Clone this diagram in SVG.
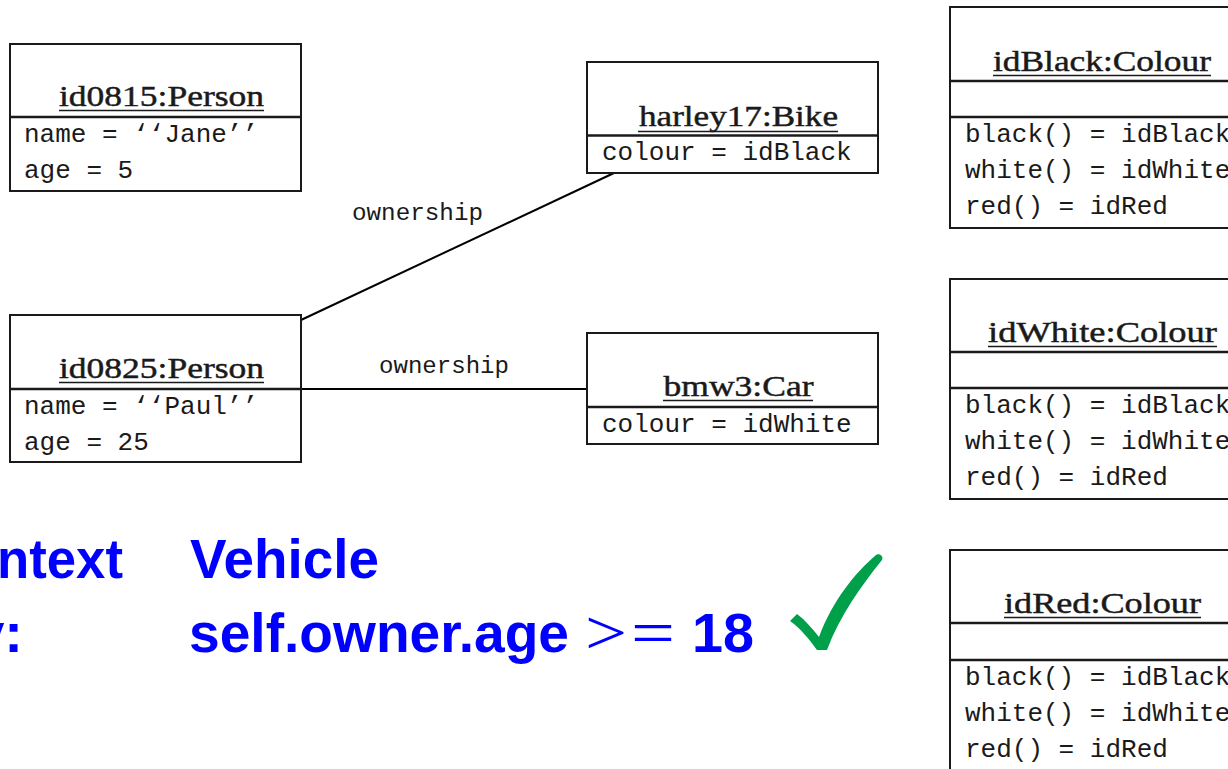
<svg xmlns="http://www.w3.org/2000/svg" width="1228" height="769" viewBox="0 0 1228 769">
  <style>
    .box { fill: #ffffff; stroke: #1a1a1a; stroke-width: 2; }
    .sep { stroke: #1a1a1a; stroke-width: 2.5; }
    .ul { stroke: #1a1a1a; stroke-width: 1.6; }
    .title { font-family: "Liberation Serif", "DejaVu Serif", serif; font-size: 29px; fill: #1a1a1a; stroke: #1a1a1a; stroke-width: 0.45; text-anchor: middle; }
    .mono { font-family: "Liberation Mono", "DejaVu Sans Mono", monospace; font-size: 26px; fill: #1a1a1a; }
    .lbl { font-family: "Liberation Mono", "DejaVu Sans Mono", monospace; font-size: 24.7px; fill: #1a1a1a; }
    .conn { stroke: #000000; stroke-width: 2; fill: none; }
    .ocl { font-family: "Liberation Sans", Arial, sans-serif; font-weight: bold; font-size: 56px; fill: #0000ff; }
    .math { font-family: "Liberation Serif", "DejaVu Serif", serif; font-weight: normal; font-size: 64px; fill: #0000ff; }
  </style>

  <!-- links -->
  <g id="connectors">
    <line class="conn" x1="301" y1="320" x2="614" y2="173"/>
    <line class="conn" x1="301" y1="389" x2="587" y2="389"/>
    <text class="lbl" x="352" y="220" textLength="131" lengthAdjust="spacingAndGlyphs">ownership</text>
    <text class="lbl" x="379" y="373" textLength="130" lengthAdjust="spacingAndGlyphs">ownership</text>
  </g>

  <g id="id0815">
    <rect class="box" x="10" y="44" width="291" height="147"/>
    <line class="sep" x1="10" y1="117" x2="301" y2="117"/>
    <text class="title" x="161.5" y="106" textLength="205" lengthAdjust="spacingAndGlyphs">id0815:Person</text>
    <line class="ul" x1="59" y1="110.5" x2="264" y2="110.5"/>
    <text class="mono" x="24" y="142">name = ‘‘Jane’’</text>
    <text class="mono" x="24" y="178">age = 5</text>
  </g>

  <g id="id0825">
    <rect class="box" x="10" y="315" width="291" height="147"/>
    <line class="sep" x1="10" y1="389" x2="301" y2="389"/>
    <text class="title" x="161.5" y="378" textLength="205" lengthAdjust="spacingAndGlyphs">id0825:Person</text>
    <line class="ul" x1="59" y1="382.5" x2="264" y2="382.5"/>
    <text class="mono" x="24" y="414">name = ‘‘Paul’’</text>
    <text class="mono" x="24" y="450">age = 25</text>
  </g>

  <g id="harley17">
    <rect class="box" x="587" y="62" width="291" height="111"/>
    <line class="sep" x1="587" y1="135.5" x2="878" y2="135.5"/>
    <text class="title" x="738.5" y="126" textLength="199" lengthAdjust="spacingAndGlyphs">harley17:Bike</text>
    <line class="ul" x1="638" y1="131.5" x2="838" y2="131.5" stroke-width="2.5"/>
    <text class="mono" x="602" y="160">colour = idBlack</text>
  </g>

  <g id="bmw3">
    <rect class="box" x="587" y="333" width="291" height="111"/>
    <line class="sep" x1="587" y1="407" x2="878" y2="407"/>
    <text class="title" x="738.5" y="396" textLength="150" lengthAdjust="spacingAndGlyphs">bmw3:Car</text>
    <line class="ul" x1="663" y1="400.5" x2="813" y2="400.5"/>
    <text class="mono" x="602" y="432">colour = idWhite</text>
  </g>

  <g id="idBlack">
    <rect class="box" x="950" y="7" width="300" height="221"/>
    <line class="sep" x1="950" y1="81" x2="1250" y2="81"/>
    <line class="sep" x1="950" y1="117" x2="1250" y2="117"/>
    <text class="title" x="1102" y="71" textLength="218" lengthAdjust="spacingAndGlyphs">idBlack:Colour</text>
    <line class="ul" x1="993" y1="75.5" x2="1211" y2="75.5"/>
    <text class="mono" x="965" y="142">black() = idBlack</text>
    <text class="mono" x="965" y="178">white() = idWhite</text>
    <text class="mono" x="965" y="214">red() = idRed</text>
  </g>

  <g id="idWhite">
    <rect class="box" x="950" y="279" width="300" height="220"/>
    <line class="sep" x1="950" y1="352" x2="1250" y2="352"/>
    <line class="sep" x1="950" y1="388" x2="1250" y2="388"/>
    <text class="title" x="1102.5" y="342" textLength="229" lengthAdjust="spacingAndGlyphs">idWhite:Colour</text>
    <line class="ul" x1="988" y1="346.5" x2="1217" y2="346.5"/>
    <text class="mono" x="965" y="413">black() = idBlack</text>
    <text class="mono" x="965" y="449">white() = idWhite</text>
    <text class="mono" x="965" y="485">red() = idRed</text>
  </g>

  <g id="idRed">
    <rect class="box" x="950" y="550" width="300" height="240"/>
    <line class="sep" x1="950" y1="623" x2="1250" y2="623"/>
    <line class="sep" x1="950" y1="660" x2="1250" y2="660"/>
    <text class="title" x="1102.5" y="613" textLength="197" lengthAdjust="spacingAndGlyphs">idRed:Colour</text>
    <line class="ul" x1="1004" y1="617.5" x2="1201" y2="617.5"/>
    <text class="mono" x="965" y="685">black() = idBlack</text>
    <text class="mono" x="965" y="721">white() = idWhite</text>
    <text class="mono" x="965" y="757">red() = idRed</text>
  </g>

  <!-- OCL invariant -->
  <g id="constraint">
    <text class="ocl" x="123" y="578" text-anchor="end" textLength="126" lengthAdjust="spacingAndGlyphs">ntext</text>
    <text class="ocl" x="190" y="578" textLength="189" lengthAdjust="spacingAndGlyphs">Vehicle</text>
    <text class="ocl" x="23" y="652" text-anchor="end">v:</text>
    <text class="ocl" x="189" y="652" textLength="380" lengthAdjust="spacingAndGlyphs">self.owner.age</text>
    <text class="math" x="585" y="654" textLength="42" lengthAdjust="spacingAndGlyphs">&gt;</text>
    <text class="math" x="631" y="654" textLength="44" lengthAdjust="spacingAndGlyphs">=</text>
    <text class="ocl" x="692" y="652" textLength="62" lengthAdjust="spacingAndGlyphs">18</text>
    <path d="M790,621 L797,614 C805,620 812,628 819,637 C833,600 855,573 876,555 C879,553 884,556 882,560 C862,585 840,615 827,650 L817,650 C810,640 800,628 790,621 Z" fill="#00a04a"/>
  </g>
</svg>
